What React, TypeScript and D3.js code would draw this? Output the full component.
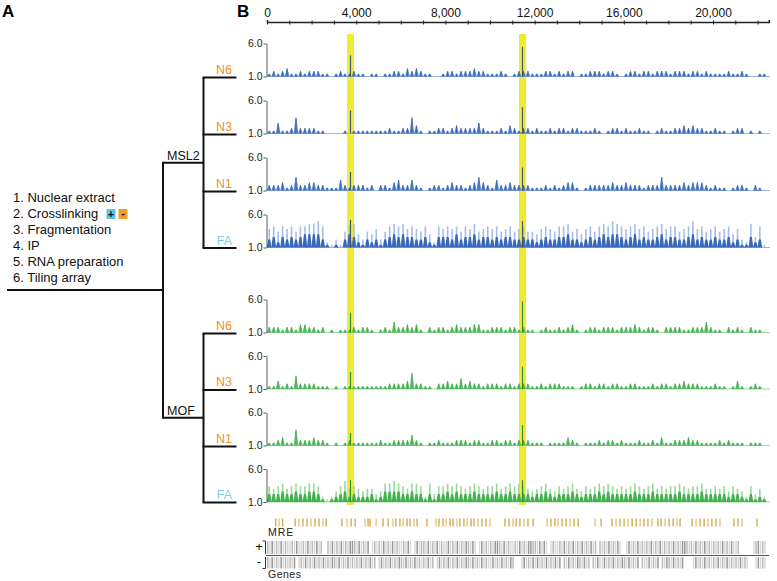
import React, { useEffect, useRef } from 'react';
import * as d3 from 'd3';

// protocol steps (panel A)
const steps = ["1. Nuclear extract", "2. Crosslinking", "3. Fragmentation", "4. IP", "5. RNA preparation", "6. Tiling array"];
const leaves = ["N6", "N3", "N1", "FA"];
const groups = ["MSL2", "MOF"];

// genome axis
const axisMax = 22500;
const axisTicks = d3.range(0, 22001, 1000);
const binSize = 200;
const geneBin = 100;

// highlighted regions (bp)
const highlights = [[3590, 3900], [11300, 11620]];
const peakPos = [3744, 11457];

// track signals, one digit per 200 bp bin, value = 1 + d * 0.4
const msl2N6 = "1212311212" + "2211012112" + "1101101122" + "1323211001" + "2212223221" + "1121012" + "2211122" + "1212201" + "1222122101" + "2212212221" + "2221221211" + "11211210011";
const msl2N3 = "1141126222" + "2110000101" + "1111111211" + "2263101122" + "1232222421" + "1121321" + "2212112" + "1221221" + "1121012212" + "1121101211" + "2232322112" + "11012201010";
const msl2N1 = "2223125223" + "3221114212" + "2212022134" + "2242101221" + "2322123532" + "1422322" + "2211121" + "2123310" + "1222223223" + "2221222522" + "2232333212" + "11012210210";
const msl2FAmax = "7868786889" + "9a82131689" + "5365736898" + "9787685287" + "8786879678" + "7867867" + "8665787" + "6889675" + "786898a987" + "8978678978" + "8678a78678" + "67857329481";
const msl2FA = "3424343455" + "5531010354" + "2132313454" + "5443342144" + "4353445344" + "3434433" + "4332343" + "3445332" + "3434545543" + "4534334534" + "4334534334" + "33423114230";

const mofN6 = "2221221332" + "2120101112" + "1221012142" + "2323102122" + "1232223311" + "2221221" + "2110121" + "1212310" + "1221222122" + "2321221022" + "2211222421" + "10212102110";
const mofN3 = "1131215222" + "2111010111" + "1111111222" + "2362211022" + "3224232212" + "2212212" + "2211212" + "2211101" + "2212212211" + "2211121221" + "2232221112" + "11013101210";
const mofN1 = "1123116222" + "3221010121" + "1111121122" + "2242101121" + "1122212211" + "2212212" + "2211101" + "1113210" + "1112122121" + "1121121311" + "2223221111" + "21211101110";
const mofFAmax = "6567567667" + "7621246856" + "5455347787" + "6577627366" + "7676567656" + "6756767" + "6545675" + "4656754" + "6567676565" + "6765675656" + "6765667556" + "56465426352";
const mofFA = "3334334334" + "4310123423" + "2223124444" + "3343313133" + "4343334333" + "3433433" + "3323343" + "2333432" + "3334343333" + "3433343333" + "3433334333" + "33233213121";

// peak heights at the two highlighted loci
const msl2Peaks = [[4.2, 5.5], [4.5, 5.0], [3.8, 4.5], [5.2, 5.0]];
const mofPeaks = [[4.0, 5.7], [3.6, 4.4], [2.9, 4.1], [4.3, 4.3]];

// MRE motif positions (bp)
const mre = [390, 540, 700, 1260, 1430, 1610, 1790, 1970, 2150, 2330, 2510, 2650, 3360, 3590, 3770, 3950, 4390, 4530, 4620, 4890, 5200, 5430, 5650, 5780, 5960, 6100, 6280, 6410, 6590, 6730, 7170, 7580, 7710, 7890, 8030, 8210, 8340, 8520, 8650, 8830, 8970, 9150, 9280, 9460, 9640, 9820, 10000, 10670, 10850, 11030, 11170, 11340, 11520, 11700, 11930, 12560, 12730, 12910, 13050, 13230, 13410, 13590, 13770, 13950, 14710, 14980, 15470, 15650, 15830, 16010, 16190, 16370, 16550, 16730, 16900, 17080, 17260, 17530, 17670, 17850, 18030, 18210, 18380, 18520, 19060, 19240, 19420, 19600, 19770, 19950, 20130, 20310, 20940, 21120, 21300, 21970];

// gene density, one digit per 100 bp (0 none, 1-3 shade)
const genesPlus = "2131213121" + "1213112131" + "2131200213" + "1213121332" + "1312130121" + "2131213121" + "1213101312" + "2131213121" + "1312131213" + "2131013121" + "2133213121" + "1213121332" + "2131310121" + "1213121312" + "1312131202" + "1213121310" + "0131213121" + "2131213121" + "2131213321" + "2131213121" + "2121312131" + "1200000012" + "31210";
const genesMinus = "2131213121" + "2130121312" + "1312131213" + "2131213121" + "2131213120" + "1312131213" + "2131213121" + "2131201312" + "1312131213" + "2131213121" + "1312131213" + "2000131213" + "1312131213" + "1302131213" + "2131202131" + "1312131213" + "2131213021" + "1312130213" + "2131213000" + "0131213121" + "2131213121" + "2131210001" + "31210";

const FONT = "Liberation Sans, Arial, sans-serif";

const App: React.FC = () => {
  const ref = useRef<SVGSVGElement | null>(null);

  useEffect(() => {
    if (!ref.current) return;
    const svg = d3.select(ref.current);
    svg.selectAll("*").remove();

    const x = d3.scaleLinear().domain([0, axisMax]).range([267, 768.75]);
    const val = (c: string) => 1 + parseInt(c, 36) * 0.4;

    const palette: Record<string, any> = {
      MSL2: { dark: "#2f63b6", light: "#a6bee6", base: "#9db7df", peak: "#3a5575" },
      MOF: { dark: "#3aae47", light: "#9ad89b", base: "#a3d7a3", peak: "#2e8a39" },
    };

    const trackData: Record<string, { max: string; bulk: string; peaks: number[] }[]> = {
      MSL2: [
        { max: msl2N6, bulk: msl2N6, peaks: msl2Peaks[0] },
        { max: msl2N3, bulk: msl2N3, peaks: msl2Peaks[1] },
        { max: msl2N1, bulk: msl2N1, peaks: msl2Peaks[2] },
        { max: msl2FAmax, bulk: msl2FA, peaks: msl2Peaks[3] },
      ],
      MOF: [
        { max: mofN6, bulk: mofN6, peaks: mofPeaks[0] },
        { max: mofN3, bulk: mofN3, peaks: mofPeaks[1] },
        { max: mofN1, bulk: mofN1, peaks: mofPeaks[2] },
        { max: mofFAmax, bulk: mofFA, peaks: mofPeaks[3] },
      ],
    };

    const groupStart: Record<string, number> = { MSL2: 76.5, MOF: 332.5 };
    const groupStep: Record<string, number> = { MSL2: 57, MOF: 56.5 };

    // panel letters
    svg.append("text").attr("x", 2).attr("y", 17).attr("font-family", FONT).attr("font-weight", "bold")
      .attr("font-size", 17).text("A");
    svg.append("text").attr("x", 237).attr("y", 17).attr("font-family", FONT).attr("font-weight", "bold")
      .attr("font-size", 17).text("B");

    // yellow highlight bands
    svg.selectAll(".hl").data(highlights).enter().append("rect")
      .attr("x", d => x(d[0])).attr("width", d => x(d[1]) - x(d[0]))
      .attr("y", 34).attr("height", 471).attr("fill", "#efeb32");

    // top genome axis
    const top = svg.append("g").attr("transform", "translate(0,22)")
      .call(d3.axisTop(x).tickValues(axisTicks).tickSizeOuter(0).tickSize(2)
        .tickFormat((d: any) => (d % 4000 === 0 ? d3.format(",")(d) : "")));
    top.select(".domain").attr("stroke-width", 1.5).attr("stroke", "#222");
    top.selectAll(".tick line").attr("y1", -1.5).attr("y2", 2.5).attr("stroke", "#222");
    top.selectAll(".tick text").attr("y", -5).attr("font-family", FONT).attr("font-size", 12).attr("fill", "#111");

    // spike shape for one bin: wide foot, narrow top at bin centre
    const spike = (i: number, top: number, base: number, half: number, topHalf: number) => {
      const c = x((i + 0.5) * binSize);
      return `M${c - half},${base}L${c - topHalf},${top}L${c + topHalf},${top}L${c + half},${base}Z`;
    };

    groups.forEach(g => {
      const col = palette[g];
      const leafY = leaves.map((_, i) => groupStart[g] + i * groupStep[g]);

      trackData[g].forEach((t, ti) => {
        const base = leafY[ti];
        const y = d3.scaleLinear().domain([1, 6]).range([base, base - 33]);
        const tg = svg.append("g");
        const isFA = ti === 3;

        // baseline
        tg.append("line").attr("x1", 267).attr("x2", 770).attr("y1", base).attr("y2", base)
          .attr("stroke", col.base).attr("stroke-width", 1);

        const maxVals = t.max.split("").map(val);
        const bulkVals = t.bulk.split("").map(val);

        // light stems reaching the bin maximum
        tg.selectAll(".mx").data(maxVals).enter().append("rect")
          .attr("x", (_, i) => x((i + 0.5) * binSize) - (isFA ? 0.8 : 0.5))
          .attr("width", isFA ? 1.6 : 1)
          .attr("y", d => y(d)).attr("height", d => base - y(d))
          .attr("fill", isFA ? col.light : col.dark).attr("opacity", isFA ? 1 : 0.85);
        // filled spikes for the bulk signal
        tg.selectAll(".bk").data(bulkVals).enter().append("path")
          .attr("d", (d, i) => spike(i, y(d), base, isFA ? 2.4 : 2.3, isFA ? 1.0 : 0.4))
          .attr("fill", col.dark).attr("opacity", isFA ? 0.95 : 0.8);

        // peaks at highlighted loci
        tg.selectAll(".pk").data(t.peaks).enter().append("line")
          .attr("x1", (_, i) => x(peakPos[i])).attr("x2", (_, i) => x(peakPos[i]))
          .attr("y1", base).attr("y2", d => y(d))
          .attr("stroke", col.peak).attr("stroke-width", 1.1);

        // y axis
        const ax = svg.append("g").attr("transform", "translate(266.5,0)")
          .call(d3.axisLeft(y).tickValues([1, 6]).tickSize(3).tickSizeOuter(0).tickPadding(1)
            .tickFormat(d3.format(".1f") as any));
        ax.select(".domain").attr("stroke", "#333").attr("stroke-width", 0.8);
        ax.selectAll(".tick line").attr("stroke", "#333").attr("stroke-width", 0.8);
        ax.selectAll(".tick text").attr("font-family", FONT).attr("font-size", 10.5).attr("fill", "#222");
      });

      // dendrogram branch
      const lines = svg.append("g").attr("stroke", "#111").attr("stroke-width", 2).attr("fill", "none");
      const lead = g === "MSL2" ? 162.7 : 417.7;
      lines.append("path").attr("d", `M163,${lead}H203.5`);
      lines.append("path").attr("d", `M203.5,${leafY[0] + 1}V${leafY[3] + 0.5}`);
      leafY.forEach((ly, i) => {
        lines.append("path").attr("d", `M202.5,${ly + (i === 3 ? 0.5 : 1)}H236.5`);
      });
      svg.selectAll(`.lf${g}`).data(leaves).enter().append("text")
        .attr("x", 232).attr("y", (_, i) => leafY[i] - 3)
        .attr("text-anchor", "end").attr("font-family", FONT).attr("font-size", 12.5)
        .attr("fill", d => (d === "FA" ? "#7fcbea" : "#f0922b")).text(d => d);
      svg.append("text").attr("x", 167).attr("y", lead - 3).attr("font-family", FONT)
        .attr("font-size", 12.5).attr("fill", "#111").text(g);
    });

    // root
    const root = svg.append("g").attr("stroke", "#111").attr("stroke-width", 2).attr("fill", "none");
    root.append("path").attr("d", "M7,290H164");
    root.append("path").attr("d", "M163,161.7V418.7");

    // protocol list
    svg.selectAll(".st").data(steps).enter().append("text")
      .attr("x", 13).attr("y", (_, i) => 202 + i * 16)
      .attr("font-family", FONT).attr("font-size", 13).attr("fill", "#111").text(d => d);
    svg.append("rect").attr("x", 106.5).attr("y", 209).attr("width", 9).attr("height", 10).attr("fill", "#5cc3e6");
    svg.append("rect").attr("x", 118.5).attr("y", 209).attr("width", 9).attr("height", 10).attr("fill", "#f29a2e");
    svg.append("text").attr("x", 111).attr("y", 217.5).attr("text-anchor", "middle").attr("font-family", FONT)
      .attr("font-size", 11).attr("font-weight", "bold").attr("fill", "#111").text("+");
    svg.append("text").attr("x", 123).attr("y", 217).attr("text-anchor", "middle").attr("font-family", FONT)
      .attr("font-size", 11).attr("font-weight", "bold").attr("fill", "#111").text("-");

    // MRE ticks
    svg.selectAll(".mre").data(mre).enter().append("rect")
      .attr("x", d => x(d) - 0.6).attr("width", 1.3).attr("y", 518.5).attr("height", 8)
      .attr("fill", (_, i) => (i % 3 === 1 ? "#e2c07c" : "#d3a546"));
    svg.append("text").attr("x", 268).attr("y", 536).attr("font-family", FONT).attr("font-size", 10.5)
      .attr("letter-spacing", 1).attr("fill", "#222").text("MRE");

    // genes
    const shade: Record<string, string> = { "1": "#dadada", "2": "#bcbcbc", "3": "#9a9a9a" };
    const geneRows = [
      { s: genesPlus, y0: 541, h: 13 },
      { s: genesMinus, y0: 557, h: 11.5 },
    ];
    geneRows.forEach(r => {
      const cells = r.s.split("").map((c, i) => ({ c, i })).filter(d => d.c !== "0");
      svg.append("g").selectAll("rect").data(cells).enter().append("rect")
        .attr("x", d => x(d.i * geneBin)).attr("width", 1.5)
        .attr("y", r.y0).attr("height", r.h).attr("fill", d => shade[d.c]);
    });
    svg.append("line").attr("x1", 266).attr("x2", 769).attr("y1", 555.5).attr("y2", 555.5)
      .attr("stroke", "#555").attr("stroke-width", 1.2);
    svg.append("path").attr("d", "M262.5,541H265.5V554M262.5,568.5H265.5V557")
      .attr("stroke", "#333").attr("fill", "none").attr("stroke-width", 1);
    svg.append("text").attr("x", 259).attr("y", 551).attr("text-anchor", "middle").attr("font-family", FONT)
      .attr("font-size", 13).attr("fill", "#111").text("+");
    svg.append("text").attr("x", 259).attr("y", 566).attr("text-anchor", "middle").attr("font-family", FONT)
      .attr("font-size", 13).attr("fill", "#111").text("-");
    svg.append("text").attr("x", 268).attr("y", 578).attr("font-family", FONT).attr("font-size", 10.5)
      .attr("letter-spacing", 0.5).attr("fill", "#222").text("Genes");
  }, []);

  return (
    <svg ref={ref} width={777} height={581}
      style={{ position: "absolute", left: 0, top: 0, background: "#fff", display: "block" }} />
  );
};

export default App;
